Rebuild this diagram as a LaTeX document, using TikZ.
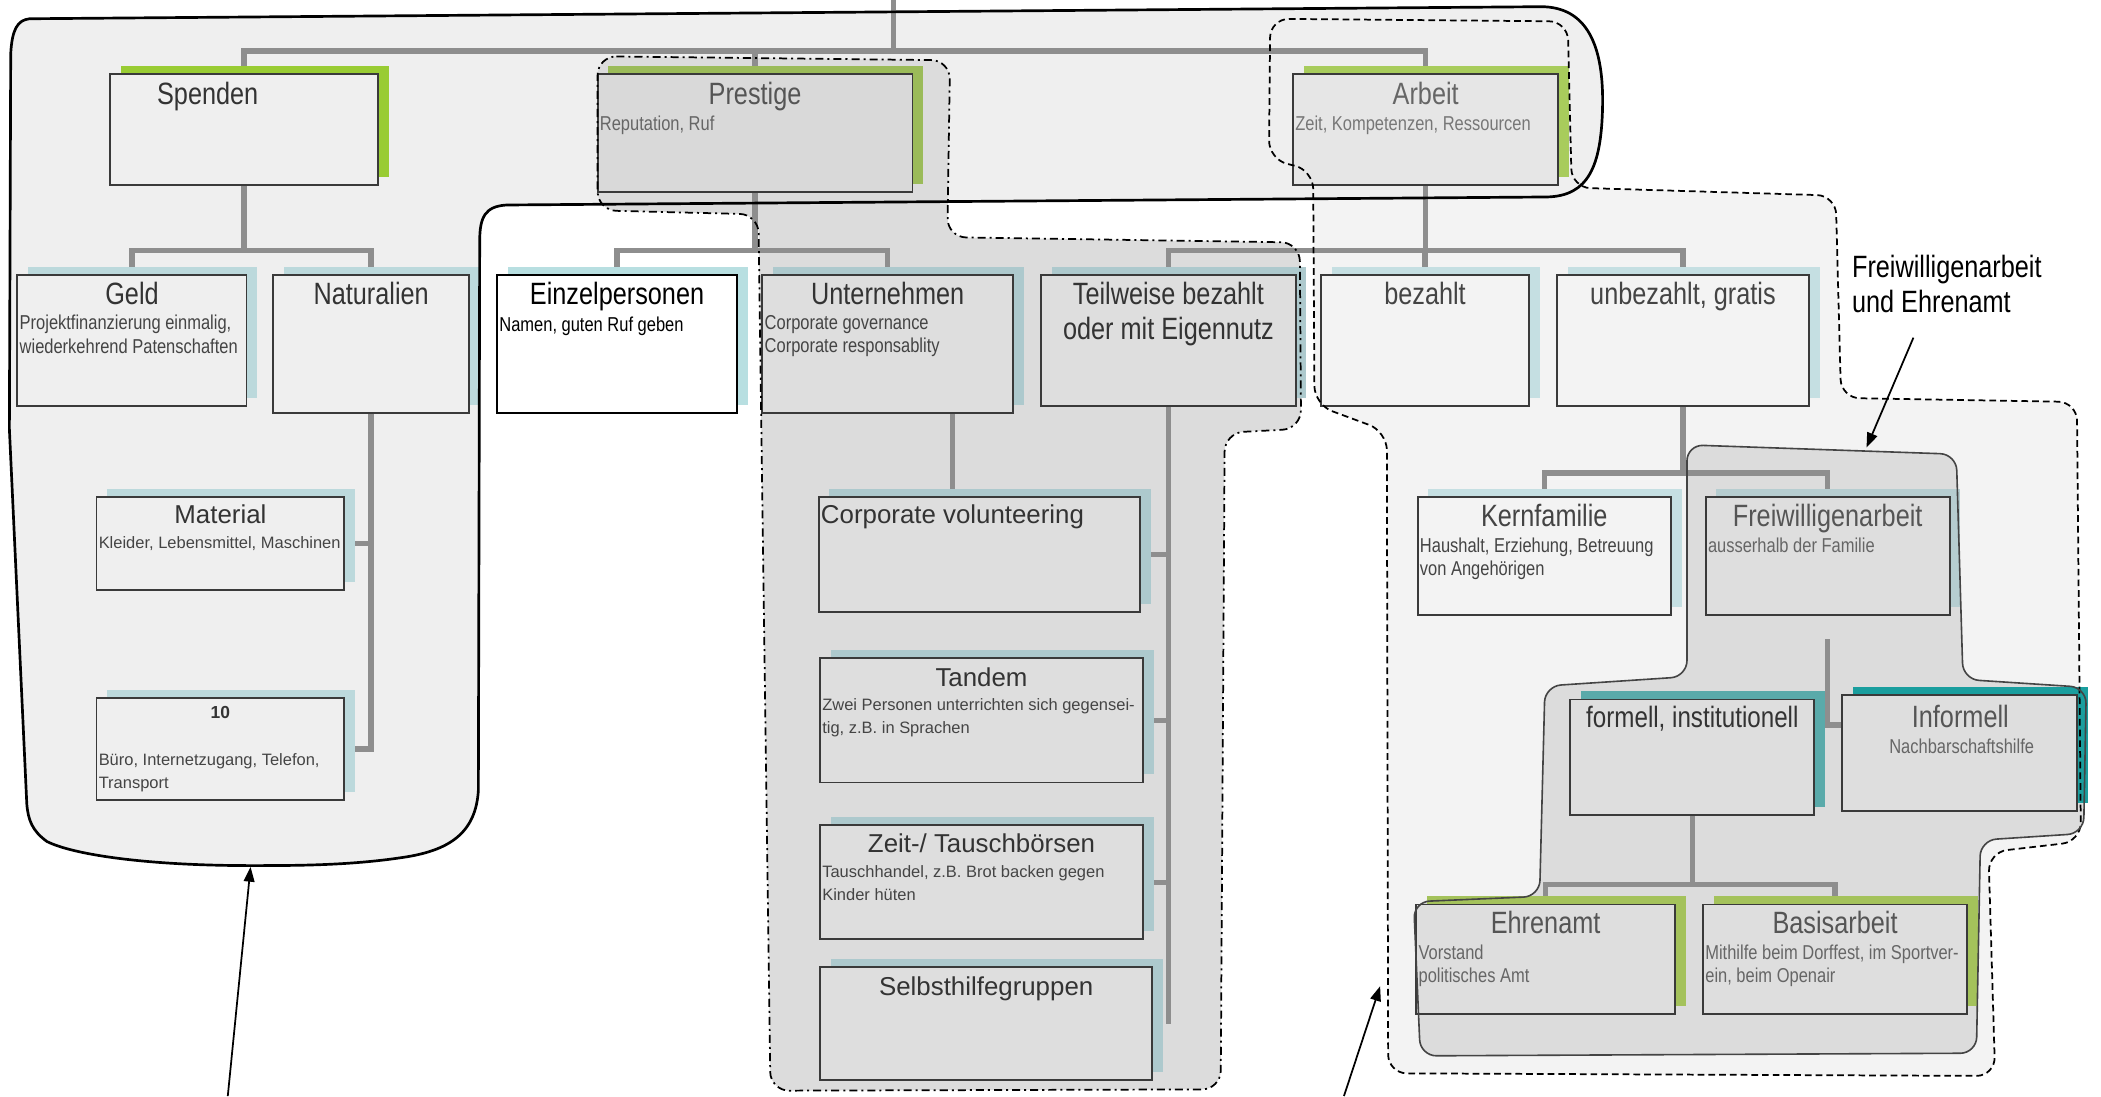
\documentclass[tikz,border=0pt]{standalone}
\usepackage{fontspec}
\setmainfont{Liberation Sans}
\newfontfamily\nf[FakeStretch=0.82]{Liberation Sans}
\usetikzlibrary{arrows.meta}
\pgfdeclarelayer{rg}
\pgfdeclarelayer{cn}
\pgfdeclarelayer{fg}
\pgfsetlayers{rg,cn,main,fg}
\definecolor{rgOuter}{HTML}{EFEFEF}
\definecolor{rgArb}{HTML}{F3F3F3}
\definecolor{rgPres}{HTML}{DCDCDC}
\definecolor{rgFrei}{HTML}{DCDCDC}
\definecolor{bxLt}{HTML}{EFEFEF}
\definecolor{bxMd}{HTML}{DEDEDE}
\definecolor{bxPr}{HTML}{D9D9D9}
\definecolor{bxAr}{HTML}{E6E6E6}
\definecolor{bxVl}{HTML}{F3F3F3}
\definecolor{gSp}{HTML}{99CC33}
\definecolor{gPr}{HTML}{9BBB59}
\definecolor{gAr}{HTML}{A8CC5C}
\definecolor{gEh}{HTML}{A4C25B}
\definecolor{bLt}{HTML}{BCD9DC}
\definecolor{bEin}{HTML}{B8DFE1}
\definecolor{bUnt}{HTML}{ADC9CD}
\definecolor{bBez}{HTML}{C5DFE2}
\definecolor{bFrei}{HTML}{B6CDD0}
\definecolor{teA}{HTML}{5AAAAA}
\definecolor{teB}{HTML}{1A9E9E}
\definecolor{bord}{HTML}{3A3A3A}
\definecolor{conC}{HTML}{8E8E8E}
\definecolor{tA}{HTML}{333333}
\definecolor{tB}{HTML}{444444}
\definecolor{tC}{HTML}{555555}
\definecolor{tD}{HTML}{666666}
\definecolor{tE}{HTML}{777777}
\tikzset{
  boxst/.style={inner sep=0pt, outer sep=0pt, anchor=north west, line width=1.4pt},
  conn/.style={draw=conC, line width=4pt, line join=miter},
  tN/.style={font=\nf\fontsize{23}{26}\selectfont, anchor=base, inner sep=0pt},
  sN/.style={font=\nf\fontsize{15}{17.5}\selectfont, anchor=north west, align=left, inner sep=0pt},
  tR/.style={font=\fontsize{19.3}{23}\selectfont, anchor=base, inner sep=0pt},
  sR/.style={font=\fontsize{12.3}{17}\selectfont, anchor=north west, align=left, inner sep=0pt},
  arr/.style={draw=black, line width=1.3pt, -{Triangle[length=11pt,width=8pt]}},
  solidrg/.style={draw=black, line width=2pt},
  dashdotrg/.style={draw=black, line width=1.3pt, dash pattern=on 6pt off 3pt on 1.5pt off 3pt, rounded corners=14pt},
  dashrg/.style={draw=black, line width=1.3pt, dash pattern=on 5pt off 3pt, rounded corners=14pt},
  freirg/.style={draw=tB, line width=1.2pt, rounded corners=12pt}
}
\newcommand\ebox[8]{%
  \fill[#7] ({#2+8},{#3-6}) rectangle ({#4+8},{#5-6});
  \node[boxst, draw=#8, fill=#6, minimum width={(#4)-(#2)}, minimum height={(#5)-(#3)}] (#1) at (#2,#3) {};
}
\def\pOuter{(22,14) -- (1150,5) .. controls (1185,5) and (1197,35) .. (1196,80) .. controls (1195,125) and (1185,146) .. (1155,147) -- (378,153) .. controls (362,154) and (358,162) .. (358,180) -- (357,590) .. controls (355,622) and (335,635) .. (300,640) .. controls (260,646) and (220,646) .. (187,646) .. controls (110,646) and (55,638) .. (35,628) .. controls (24,620) and (21,612) .. (20,600) -- (7,320) -- (8,40) .. controls (9,22) and (13,15) .. (22,14) -- cycle}
\def\pPres{(446,42) -- (709,45) -- (707,177) -- (970,181) -- (971,320) -- (914,323) -- (911,813) -- (575,814) -- (566,160) -- (446,157) -- cycle}
\def\pArb{(948,14) -- (1170,16) -- (1173,140) -- (1370,146) -- (1374,297) -- (1550,300) -- (1553,628) -- (1484,636) -- (1489,803) -- (1036,801) -- (1035,322) -- (981,302) -- (980,127) -- (947,119) -- cycle}
\def\pFrei{(1259,332) -- (1460,339) -- (1465,507) -- (1557,513) -- (1555,622) -- (1478,627) -- (1475,786) -- (1060,788) -- (1055,673) -- (1149,669) -- (1153,512) -- (1259,505) -- cycle}
\begin{document}
\begin{tikzpicture}[x=1pt,y=-1pt]
\useasboundingbox (0,0) rectangle (1568,818);
% region fills
\begin{pgfonlayer}{rg}
\fill[rgArb, rounded corners=14pt] \pArb;
\fill[rgOuter] \pOuter;
\fill[rgPres, rounded corners=14pt] \pPres;
\fill[rgFrei, rounded corners=12pt] \pFrei;
\end{pgfonlayer}
% boxes
\ebox{Spenden}{82}{55}{282}{138}{bxLt}{gSp}{bord}
\ebox{Prestige}{446}{55}{681}{143}{bxPr}{gPr}{bord}
\ebox{Arbeit}{965}{55}{1163}{138}{bxAr}{gAr}{bord}
\ebox{Geld}{13}{205}{184}{303}{bxLt}{bLt}{bord}
\ebox{Natur}{204}{205}{350}{308}{bxLt}{bLt}{bord}
\ebox{Einzel}{371}{205}{550}{308}{white}{bEin}{black}
\ebox{Unt}{569}{205}{756}{308}{bxMd}{bUnt}{bord}
\ebox{Teil}{777}{205}{967}{303}{bxMd}{bUnt}{bord}
\ebox{Bez}{986}{205}{1141}{303}{bxVl}{bBez}{bord}
\ebox{Unbez}{1162}{205}{1350}{303}{bxVl}{bBez}{bord}
\ebox{Mat}{72}{371}{257}{440}{bxLt}{bLt}{bord}
\ebox{Ten}{72}{521}{257}{597}{bxLt}{bLt}{bord}
\ebox{CV}{611}{371}{851}{457}{bxMd}{bUnt}{bord}
\ebox{Tandem}{612}{491}{853}{584}{bxMd}{bUnt}{bord}
\ebox{Zeit}{612}{616}{853}{701}{bxMd}{bUnt}{bord}
\ebox{Selbst}{612}{722}{860}{806}{bxMd}{bUnt}{bord}
\ebox{Kern}{1058}{371}{1247}{459}{bxVl}{bBez}{bord}
\ebox{Frei}{1273}{371}{1455}{459}{bxMd}{bFrei}{bord}
\ebox{Form}{1172}{522}{1354}{608}{bxMd}{teA}{bord}
\ebox{Inf}{1375}{519}{1550}{605}{bxMd}{teB}{bord}
\ebox{Ehren}{1057}{675}{1250}{757}{bxMd}{gEh}{bord}
\ebox{Basis}{1271}{675}{1468}{757}{bxMd}{gEh}{bord}
% connectors
\coordinate (root) at (667,0);
\coordinate (bus0) at (0,38);
\coordinate (bus1) at (0,187);
\coordinate (bus2) at (0,353);
\coordinate (bus3) at (0,660);
\coordinate (ux) at (711,0);
\coordinate (fy) at (0,541);
\begin{pgfonlayer}{cn}
\draw[conn] (root) -- (root |- bus0);
\draw[conn] (Spenden.north) |- (Arbeit.north |- bus0) -- (Arbeit.north);
\draw[conn] (Prestige.north) -- (Prestige.north |- bus0);
\draw[conn] (Spenden.south) -- (Spenden.south |- bus1);
\draw[conn] (Geld.north) |- (Natur.north |- bus1) -- (Natur.north);
\draw[conn] (Prestige.south) -- (Prestige.south |- bus1);
\draw[conn] (Einzel.north) |- (Unt.north |- bus1) -- (Unt.north);
\draw[conn] (Arbeit.south) -- (Arbeit.south |- bus1);
\draw[conn] (Teil.north) |- (Unbez.north |- bus1) -- (Unbez.north);
\draw[conn] (Bez.north) -- (Bez.north |- bus1);
\draw[conn] (Natur.south) |- (Ten.east);
\draw[conn] (Mat.east) -- (Mat.east -| Natur.south);
\draw[conn] (Unt.south -| ux) -- (CV.north -| ux);
\draw[conn] (Teil.south) -- (Teil.south |- Selbst.east);
\draw[conn] (CV.east) -- (CV.east -| Teil.south);
\draw[conn] (Tandem.east) -- (Tandem.east -| Teil.south);
\draw[conn] (Zeit.east) -- (Zeit.east -| Teil.south);
\draw[conn] (Unbez.south) -- (Unbez.south |- bus2);
\draw[conn] (Kern.north) |- (Frei.north |- bus2) -- (Frei.north);
\draw[conn] ([yshift=-18pt]Frei.south) |- (Inf.west |- fy);
\draw[conn] (Form.south) -- (Form.south |- bus3);
\draw[conn] (Ehren.north) |- (Basis.north |- bus3) -- (Basis.north);
\end{pgfonlayer}
% texts
\node[tN, text=tA] (tSpenden) at (155,78) {Spenden};
\node[tN, text=tC] (tPrestige) at (563.5,78) {Prestige};
\node[sN, text=tD] (sPrestige) at (447.5,86) {Reputation, Ruf};
\node[tN, text=tD] (tArbeit) at (1064,78) {Arbeit};
\node[sN, text=tE] (sArbeit) at (966.5,86) {Zeit, Kompetenzen, Ressourcen};
\node[tN, text=tA] (tGeld) at (98.5,227) {Geld};
\node[sN, text=tB] (sGeld) at (14.5,235) {Projektfinanzierung einmalig,\\wiederkehrend Patenschaften};
\node[tN, text=tA] (tNatur) at (277,227) {Naturalien};
\node[tN, text=black] (tEinzel) at (460.5,227) {Einzelpersonen};
\node[sN, text=black] (sEinzel) at (372.5,236) {Namen, guten Ruf geben};
\node[tN, text=tA] (tUnt) at (662.5,227) {Unternehmen};
\node[sN, text=tB] (sUnt) at (570.5,235) {Corporate governance\\Corporate responsablity};
\node[font=\nf\fontsize{23}{26}\selectfont, align=center, anchor=north, inner sep=0pt, text=tA] (tTeil) at (872,210.5) {Teilweise bezahlt\\oder mit Eigennutz};
\node[tN, text=tB] (tBez) at (1063.5,227) {bezahlt};
\node[tN, text=tB] (tUnbez) at (1256,227) {unbezahlt, gratis};
\node[tR, text=tA] (tMat) at (164.5,391) {Material};
\node[sR, text=tB] (sMat) at (73.5,400) {Kleider, Lebensmittel, Maschinen};
\node[font=\bfseries\fontsize{13}{16}\selectfont, anchor=base, inner sep=0pt, text=tA] (tTen) at (164.5,536) {10};
\node[sR, text=tB] (sTen) at (73.5,562) {Büro, Internetzugang, Telefon,\\Transport};
\node[tR, anchor=base west, text=tA] (tCV) at (612.5,391) {Corporate volunteering};
\node[tR, text=tA] (tTandem) at (732.5,512) {Tandem};
\node[sR, text=tB] (sTandem) at (613.5,521) {Zwei Personen unterrichten sich gegensei-\\tig, z.B. in Sprachen};
\node[tR, text=tA] (tZeit) at (732.5,636) {Zeit-/ Tauschbörsen};
\node[sR, text=tB] (sZeit) at (613.5,646) {Tauschhandel, z.B. Brot backen gegen\\Kinder hüten};
\node[tR, text=tA] (tSelbst) at (736,743) {Selbsthilfegruppen};
\node[tN, text=tB] (tKern) at (1152.5,393) {Kernfamilie};
\node[sN, text=tB] (sKern) at (1059.5,401) {Haushalt, Erziehung, Betreuung\\von Angehörigen};
\node[tN, text=tC] (tFrei) at (1364,393) {Freiwilligenarbeit};
\node[sN, text=tD] (sFrei) at (1274.5,401) {ausserhalb der Familie};
\node[tN, font=\nf\fontsize{22}{26}\selectfont, text=tA] (tForm) at (1263,543) {formell, institutionell};
\node[tN, text=tC] (tInf) at (1463,543) {Informell};
\node[sN, anchor=north, text=tD] (sInf) at (1464,551) {Nachbarschaftshilfe};
\node[tN, text=tC] (tEhren) at (1153.5,697) {Ehrenamt};
\node[sN, text=tD] (sEhren) at (1058.5,705) {Vorstand\\politisches Amt};
\node[tN, text=tC] (tBasis) at (1369.5,697) {Basisarbeit};
\node[sN, text=tD] (sBasis) at (1272.5,705) {Mithilfe beim Dorffest, im Sportver-\\ein, beim Openair};
% region outlines, annotation, arrows
\begin{pgfonlayer}{fg}
\draw[solidrg] \pOuter;
\draw[dashdotrg] \pPres;
\draw[dashrg] \pArb;
\draw[freirg] \pFrei;
\node[font=\nf\fontsize{23}{26}\selectfont, anchor=north west, align=left, inner sep=0pt, text=black] (note) at (1382,190) {Freiwilligenarbeit\\und Ehrenamt};
\coordinate (a1s) at (170,818);
\coordinate (a1e) at (187,647);
\coordinate (a2s) at (1003,818);
\coordinate (a2e) at (1030,736);
\coordinate (a3s) at (1428,252);
\coordinate (a3e) at (1393,334);
\draw[arr] (a1s) -- (a1e);
\draw[arr] (a2s) -- (a2e);
\draw[arr] (a3s) -- (a3e);
\end{pgfonlayer}
\end{tikzpicture}
\end{document}
